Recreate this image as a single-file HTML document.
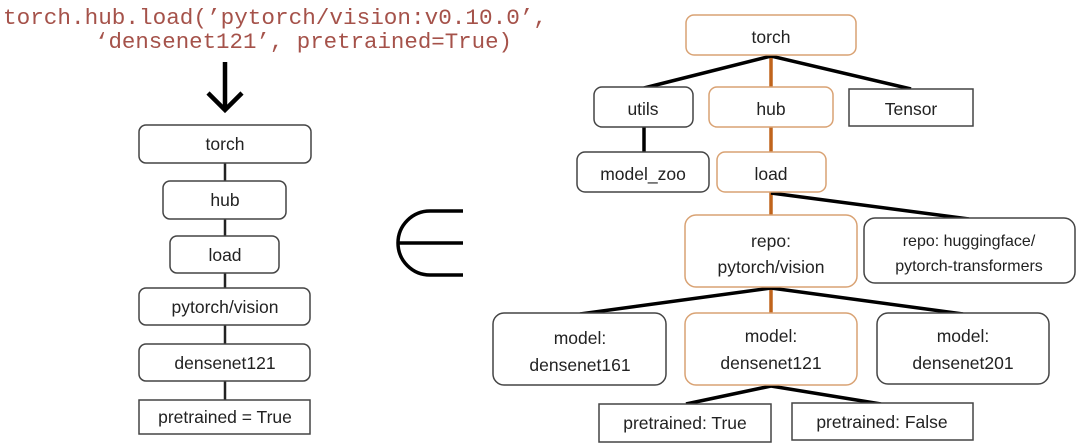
<!DOCTYPE html>
<html><head><meta charset="utf-8"><style>
body{margin:0;background:#fff;}
svg{display:block}
text{font-family:"Liberation Sans",sans-serif;font-size:17.5px;fill:#222;text-anchor:middle}
.code{font-family:"Liberation Mono",monospace;font-size:22.5px;fill:#a5524a;text-anchor:start}
.b{fill:#fff;stroke:#444;stroke-width:1.5}
.o{fill:#fff;stroke:#d9a273;stroke-width:1.5}
.l{stroke:#000;stroke-width:3.5;fill:none}
.ol{stroke:#c0641c;stroke-width:3.5}
</style></head><body>
<svg width="1080" height="447" viewBox="0 0 1080 447">
<text class="code" x="3" y="24" textLength="544" lengthAdjust="spacingAndGlyphs">torch.hub.load(’pytorch/vision:v0.10.0’,</text>
<text class="code" x="95" y="48" textLength="417" lengthAdjust="spacingAndGlyphs">‘densenet121’, pretrained=True)</text>
<!-- arrow -->
<line class="l" x1="225" y1="62" x2="225" y2="110" style="stroke-width:4.5"/>
<polyline class="l" points="208,93 225,110 242,93" style="stroke-width:4.5"/>
<!-- left chain -->
<line x1="225" y1="163" x2="225" y2="400" stroke="#222" stroke-width="2.5"/>
<rect class="b" x="139" y="125" width="172" height="38" rx="7"/><text x="225" y="150">torch</text>
<rect class="b" x="163" y="181" width="123" height="38" rx="7"/><text x="225" y="206">hub</text>
<rect class="b" x="170" y="236" width="109" height="37" rx="7"/><text x="225" y="261">load</text>
<rect class="b" x="139" y="288" width="171" height="37" rx="7"/><text x="225" y="313">pytorch/vision</text>
<rect class="b" x="139" y="344" width="171" height="37" rx="7"/><text x="225" y="369">densenet121</text>
<rect class="b" x="139" y="400" width="171" height="34"/><text x="225" y="423">pretrained = True</text>
<!-- element-of -->
<path d="M463,211 H430 A32,32 0 0 0 430,275 H463 M397,243 H463" stroke="#000" stroke-width="3.5" fill="none"/>
<!-- right connectors -->
<line class="ol" x1="771" y1="55" x2="771" y2="152"/>
<line class="ol" x1="771" y1="192" x2="771" y2="215"/>
<line class="ol" x1="771" y1="287" x2="771" y2="313"/>
<polyline class="l" points="644,88 771,56 911,89"/>
<line class="l" x1="644" y1="127" x2="644" y2="152"/>
<line class="l" x1="771" y1="193" x2="969" y2="219"/>
<polyline class="l" points="580,314 771,288 963,314"/>
<polyline class="l" points="686,404 771,386 881,404"/>
<!-- right boxes -->
<rect class="o" x="686" y="15" width="170" height="40" rx="8"/><text x="771" y="43">torch</text>
<rect class="b" x="594" y="87" width="99" height="40" rx="8"/><text x="643" y="115">utils</text>
<rect class="o" x="709" y="87" width="124" height="40" rx="8"/><text x="771" y="115">hub</text>
<rect class="b" x="849" y="89" width="124" height="37"/><text x="911" y="115">Tensor</text>
<rect class="b" x="577" y="152" width="132" height="40" rx="8"/><text x="643" y="180">model_zoo</text>
<rect class="o" x="717" y="152" width="109" height="40" rx="8"/><text x="771" y="180">load</text>
<rect class="o" x="685" y="215" width="172" height="72" rx="11"/><text x="771" y="247">repo:</text><text x="771" y="273">pytorch/vision</text>
<rect class="b" x="864" y="218" width="211" height="65" rx="11"/><text x="969" y="246" style="font-size:16px">repo: huggingface/</text><text x="969" y="271" style="font-size:16px">pytorch-transformers</text>
<rect class="b" x="493" y="313" width="173" height="72" rx="11"/><text x="580" y="344">model:</text><text x="580" y="371">densenet161</text>
<rect class="o" x="685" y="313" width="172" height="72" rx="11"/><text x="771" y="342">model:</text><text x="771" y="369">densenet121</text>
<rect class="b" x="877" y="313" width="172" height="71" rx="11"/><text x="963" y="342">model:</text><text x="963" y="369">densenet201</text>
<rect class="b" x="599" y="404" width="172" height="38"/><text x="685" y="429">pretrained: True</text>
<rect class="b" x="792" y="403" width="181" height="37"/><text x="882" y="428">pretrained: False</text>
</svg>
</body></html>
